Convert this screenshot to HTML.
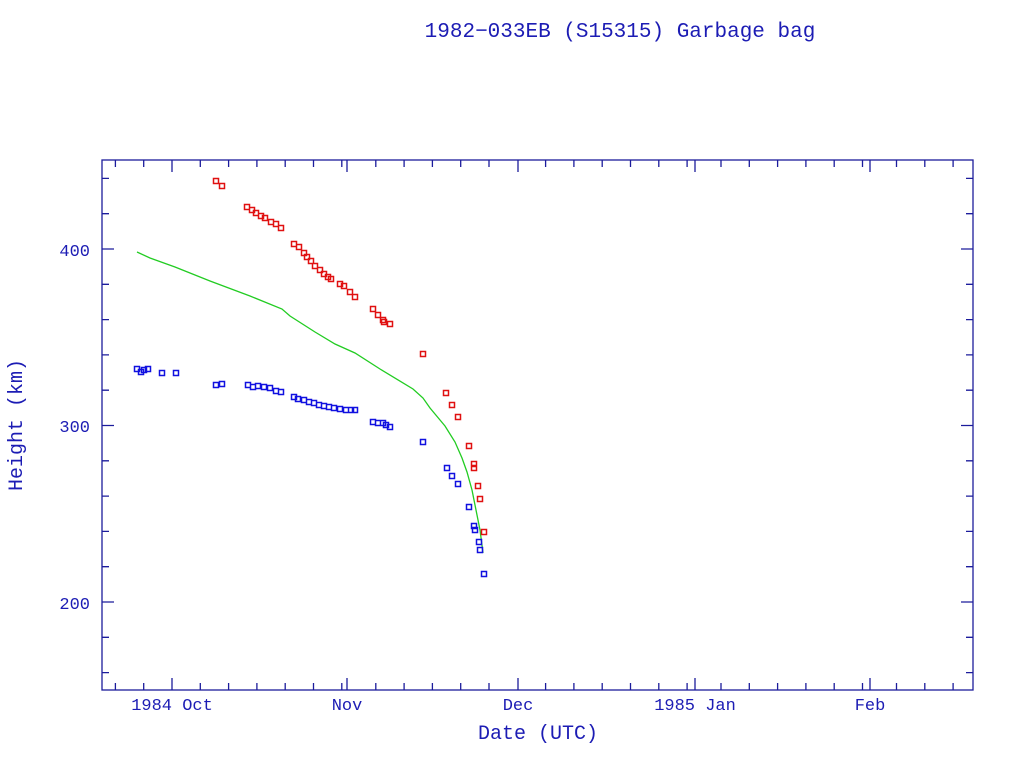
<!DOCTYPE html>
<html><head><meta charset="utf-8"><style>
html,body{margin:0;padding:0;background:#fff;}
svg{display:block;}
text{font-family:"Liberation Mono",monospace;fill:#1c1cb4;}
</style></head><body>
<svg width="1024" height="768" viewBox="0 0 1024 768" xmlns="http://www.w3.org/2000/svg">
<text x="620" y="37" font-size="21" text-anchor="middle">1982−033EB (S15315) Garbage bag</text>
<rect x="102" y="160" width="871" height="530" fill="none" stroke="#1c1c9c" stroke-width="1.3"/>
<path fill="none" stroke="#1c1c9c" stroke-width="1.3" d="
M172,690v-12M347,690v-12M518,690v-12M695,690v-12M870,690v-12
M172,160v12M347,160v12M518,160v12M695,160v12M870,160v12
M115.4,690v-7M143.7,690v-7M200.3,690v-7M228.6,690v-7M256.9,690v-7M285.2,690v-7M313.5,690v-7M341.8,690v-7M375.8,690v-7M404.1,690v-7M432.4,690v-7M460.7,690v-7M489,690v-7M545.6,690v-7M573.9,690v-7M602.2,690v-7M630.5,690v-7M658.8,690v-7M687.1,690v-7M721,690v-7M749.3,690v-7M777.6,690v-7M805.9,690v-7M834.2,690v-7M862.5,690v-7M896.5,690v-7M924.8,690v-7M953.1,690v-7
M115.4,160v7M143.7,160v7M200.3,160v7M228.6,160v7M256.9,160v7M285.2,160v7M313.5,160v7M341.8,160v7M375.8,160v7M404.1,160v7M432.4,160v7M460.7,160v7M489,160v7M545.6,160v7M573.9,160v7M602.2,160v7M630.5,160v7M658.8,160v7M687.1,160v7M721,160v7M749.3,160v7M777.6,160v7M805.9,160v7M834.2,160v7M862.5,160v7M896.5,160v7M924.8,160v7M953.1,160v7
M102,602h12M102,425.5h12M102,249h12M973,602h-12M973,425.5h-12M973,249h-12
M102,672.6h7M102,637.3h7M102,566.7h7M102,531.4h7M102,496.1h7M102,460.8h7M102,390.2h7M102,354.9h7M102,319.6h7M102,284.3h7M102,213.7h7M102,178.4h7
M973,672.6h-7M973,637.3h-7M973,566.7h-7M973,531.4h-7M973,496.1h-7M973,460.8h-7M973,390.2h-7M973,354.9h-7M973,319.6h-7M973,284.3h-7M973,213.7h-7M973,178.4h-7"/>
<g font-size="17">
<text x="172" y="710" text-anchor="middle">1984 Oct</text>
<text x="347" y="710" text-anchor="middle">Nov</text>
<text x="518" y="710" text-anchor="middle">Dec</text>
<text x="695" y="710" text-anchor="middle">1985 Jan</text>
<text x="870" y="710" text-anchor="middle">Feb</text>
<text x="90" y="256" text-anchor="end">400</text>
<text x="90" y="432" text-anchor="end">300</text>
<text x="90" y="609" text-anchor="end">200</text>
</g>
<text x="538" y="739" font-size="20" text-anchor="middle">Date (UTC)</text>
<text transform="translate(22,425) rotate(-90)" font-size="20" text-anchor="middle">Height (km)</text>
<polyline fill="none" stroke="#22cc22" stroke-width="1.3" points="137,252 150,258 175,267 210,281 250,296 282,309 290,316 315,332 335,344 355,353 380,369 413,389 423,398 430,408 445,426 455,442 462,458 467,472 472,490 476,510 480,530 483,553"/>
<path fill="none" stroke="#e01010" stroke-width="1.5" d="
M213.5,178.5h5v5h-5z M219.5,183.5h5v5h-5z M244.5,204.5h5v5h-5z M249.5,207.5h5v5h-5z M253.5,210.5h5v5h-5z M258.5,213.5h5v5h-5z M262.5,215.5h5v5h-5z M268.5,219.5h5v5h-5z M273.5,221.5h5v5h-5z M278.5,225.5h5v5h-5z
M291.5,241.5h5v5h-5z M296.5,244.5h5v5h-5z M301.5,250.5h5v5h-5z M304.5,254.5h5v5h-5z M308.5,258.5h5v5h-5z M312.5,263.5h5v5h-5z M317.5,267.5h5v5h-5z M321.5,271.5h5v5h-5z M325.5,274.5h5v5h-5z M328.5,276.5h5v5h-5z M337.5,281.5h5v5h-5z M341.5,283.5h5v5h-5z M347.5,289.5h5v5h-5z M352.5,294.5h5v5h-5z
M370.5,306.5h5v5h-5z M375.5,312.5h5v5h-5z M380.5,317.5h5v5h-5z M381.5,319.5h5v5h-5z M387.5,321.5h5v5h-5z M420.5,351.5h5v5h-5z M443.5,390.5h5v5h-5z M449.5,402.5h5v5h-5z M455.5,414.5h5v5h-5z M466.5,443.5h5v5h-5z M471.5,461.5h5v5h-5z M471.5,465.5h5v5h-5z M475.5,483.5h5v5h-5z M477.5,496.5h5v5h-5z M481.5,529.5h5v5h-5z"/>
<path fill="none" stroke="#1010e0" stroke-width="1.5" d="
M134.5,366.5h5v5h-5z M138.5,369.5h5v5h-5z M141.5,367.5h5v5h-5z M145.5,366.5h5v5h-5z M159.5,370.5h5v5h-5z M173.5,370.5h5v5h-5z M213.5,382.5h5v5h-5z M219.5,381.5h5v5h-5z
M245.5,382.5h5v5h-5z M250.5,384.5h5v5h-5z M255.5,383.5h5v5h-5z M261.5,384.5h5v5h-5z M267.5,385.5h5v5h-5z M273.5,388.5h5v5h-5z M278.5,389.5h5v5h-5z
M291.5,394.5h5v5h-5z M295.5,396.5h5v5h-5z M301.5,397.5h5v5h-5z M306.5,399.5h5v5h-5z M311.5,400.5h5v5h-5z M316.5,402.5h5v5h-5z M321.5,403.5h5v5h-5z M326.5,404.5h5v5h-5z M331.5,405.5h5v5h-5z M337.5,406.5h5v5h-5z M343.5,407.5h5v5h-5z M348.5,407.5h5v5h-5z M352.5,407.5h5v5h-5z
M370.5,419.5h5v5h-5z M375.5,420.5h5v5h-5z M380.5,420.5h5v5h-5z M383.5,422.5h5v5h-5z M387.5,424.5h5v5h-5z M420.5,439.5h5v5h-5z M444.5,465.5h5v5h-5z M449.5,473.5h5v5h-5z M455.5,481.5h5v5h-5z M466.5,504.5h5v5h-5z M471.5,523.5h5v5h-5z M472.5,527.5h5v5h-5z M476.5,539.5h5v5h-5z M477.5,547.5h5v5h-5z M481.5,571.5h5v5h-5z"/>
</svg>
</body></html>
